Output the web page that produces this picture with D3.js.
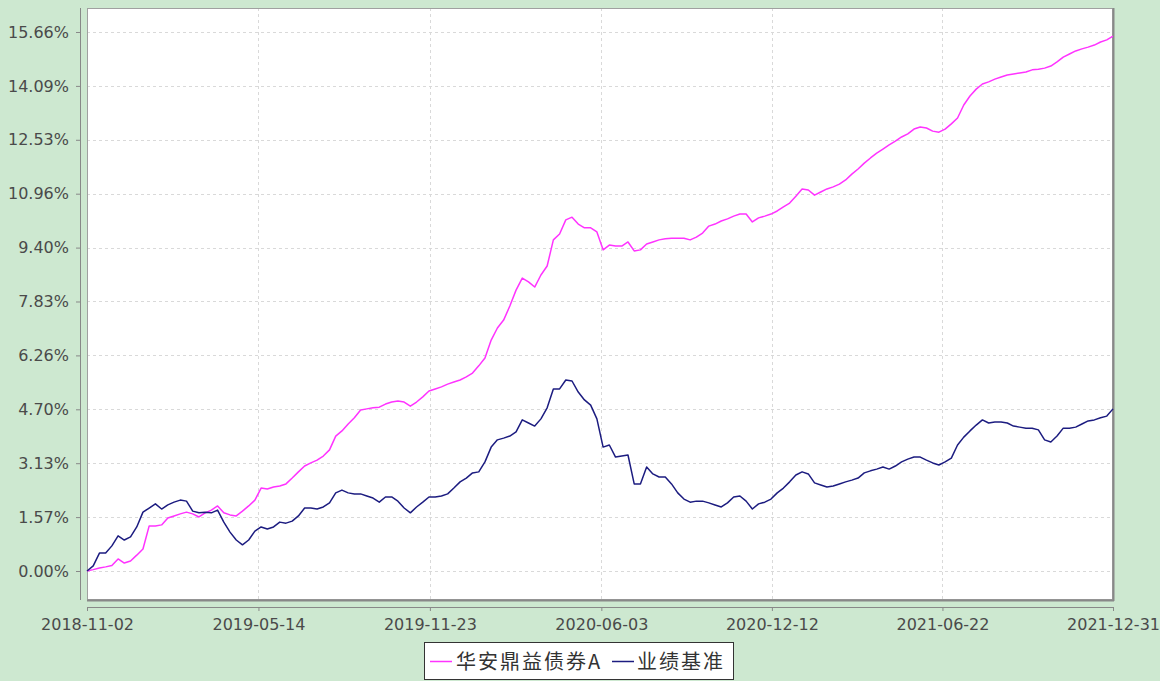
<!DOCTYPE html>
<html><head><meta charset="utf-8">
<script src="https://cdn.jsdelivr.net/npm/d3@7/dist/d3.min.js"></script>
<style>
html,body{margin:0;padding:0;background:#cde8d0;}
svg{display:block;}
</style></head>
<body>
<svg id="chart" width="1160" height="681"></svg>
<script>
const dates = [
"2018-11-02","2018-11-09","2018-11-16","2018-11-23","2018-11-30","2018-12-07","2018-12-14","2018-12-21","2018-12-28",
"2019-01-04","2019-01-11","2019-01-18","2019-01-25","2019-02-01","2019-02-08","2019-02-15","2019-02-22",
"2019-03-01","2019-03-08","2019-03-15","2019-03-22","2019-03-29","2019-04-05","2019-04-12","2019-04-19","2019-04-26",
"2019-05-03","2019-05-10","2019-05-17","2019-05-24","2019-05-31","2019-06-07","2019-06-14","2019-06-21","2019-06-28",
"2019-07-05","2019-07-12","2019-07-19","2019-07-26","2019-08-02","2019-08-09","2019-08-16","2019-08-23","2019-08-30",
"2019-09-06","2019-09-13","2019-09-20","2019-09-27","2019-10-04","2019-10-11","2019-10-18","2019-10-25",
"2019-11-01","2019-11-08","2019-11-15","2019-11-22","2019-11-29","2019-12-06","2019-12-13","2019-12-20","2019-12-27",
"2020-01-03","2020-01-10","2020-01-17","2020-01-24","2020-01-31","2020-02-07","2020-02-14","2020-02-21","2020-02-28",
"2020-03-06","2020-03-13","2020-03-20","2020-03-27","2020-04-03","2020-04-10","2020-04-17","2020-04-24",
"2020-05-01","2020-05-08","2020-05-15","2020-05-22","2020-05-29","2020-06-05","2020-06-12","2020-06-19","2020-06-26",
"2020-07-03","2020-07-10","2020-07-17","2020-07-24","2020-07-31","2020-08-07","2020-08-14","2020-08-21","2020-08-28",
"2020-09-04","2020-09-11","2020-09-18","2020-09-25","2020-10-02","2020-10-09","2020-10-16","2020-10-23","2020-10-30",
"2020-11-06","2020-11-13","2020-11-20","2020-11-27","2020-12-04","2020-12-11","2020-12-18","2020-12-25",
"2021-01-01","2021-01-08","2021-01-15","2021-01-22","2021-01-29","2021-02-05","2021-02-12","2021-02-19","2021-02-26",
"2021-03-05","2021-03-12","2021-03-19","2021-03-26","2021-04-02","2021-04-09","2021-04-16","2021-04-23","2021-04-30",
"2021-05-07","2021-05-14","2021-05-21","2021-05-28","2021-06-04","2021-06-11","2021-06-18","2021-06-25",
"2021-07-02","2021-07-09","2021-07-16","2021-07-23","2021-07-30","2021-08-06","2021-08-13","2021-08-20","2021-08-27",
"2021-09-03","2021-09-10","2021-09-17","2021-09-24","2021-10-01","2021-10-08","2021-10-15","2021-10-22","2021-10-29",
"2021-11-05","2021-11-12","2021-11-19","2021-11-26","2021-12-03","2021-12-10","2021-12-17","2021-12-24","2021-12-31"
];

// 华安鼎益债券A cumulative return (%)
const fundValues = [
0.00,0.04,0.09,0.12,0.16,0.35,0.23,0.29,0.46,
0.64,1.31,1.31,1.34,1.54,1.60,1.66,1.71,
1.66,1.57,1.69,1.77,1.89,1.69,1.63,1.60,1.74,
1.89,2.06,2.41,2.38,2.44,2.47,2.53,2.70,2.88,
3.05,3.14,3.22,3.34,3.52,3.92,4.07,4.27,4.45,
4.68,4.71,4.74,4.76,4.85,4.91,4.94,4.91,
4.79,4.91,5.06,5.23,5.29,5.35,5.43,5.49,5.55,
5.64,5.75,5.96,6.19,6.71,7.06,7.29,7.70,8.16,
8.51,8.40,8.25,8.60,8.86,9.62,9.79,10.20,
10.28,10.08,9.97,9.97,9.85,9.33,9.47,9.44,9.44,
9.56,9.30,9.33,9.50,9.56,9.62,9.65,9.67,9.67,
9.67,9.62,9.70,9.82,10.02,10.08,10.17,10.23,10.31,
10.37,10.37,10.14,10.26,10.31,10.37,10.46,10.58,
10.69,10.89,11.10,11.07,10.92,11.01,11.10,11.16,11.24,
11.36,11.53,11.68,11.85,12.00,12.14,12.26,12.38,12.49,
12.61,12.70,12.84,12.90,12.87,12.78,12.75,12.84,
12.99,13.16,13.54,13.80,14.00,14.15,14.21,14.29,14.35,
14.41,14.44,14.47,14.50,14.56,14.58,14.61,14.67,14.79,
14.93,15.02,15.11,15.17,15.22,15.28,15.37,15.43,15.54
];

// 业绩基准 cumulative return (%)
const benchValues = [
0.00,0.15,0.52,0.52,0.73,1.02,0.90,0.99,1.28,
1.71,1.83,1.95,1.80,1.92,2.00,2.06,2.03,
1.74,1.69,1.71,1.69,1.77,1.42,1.13,0.90,0.76,
0.90,1.16,1.28,1.22,1.28,1.42,1.39,1.45,1.60,
1.83,1.83,1.80,1.86,1.98,2.27,2.35,2.27,2.24,
2.24,2.18,2.12,2.00,2.15,2.15,2.03,1.83,
1.69,1.86,2.00,2.15,2.15,2.18,2.24,2.41,2.59,
2.70,2.85,2.88,3.17,3.60,3.81,3.86,3.92,4.04,
4.39,4.30,4.21,4.42,4.74,5.29,5.29,5.55,
5.52,5.20,4.97,4.82,4.42,3.60,3.66,3.31,3.34,
3.37,2.53,2.53,3.02,2.82,2.73,2.73,2.53,2.27,
2.09,2.00,2.03,2.03,1.98,1.92,1.86,1.98,2.15,
2.18,2.03,1.80,1.95,2.00,2.09,2.27,2.41,
2.59,2.79,2.88,2.82,2.56,2.50,2.44,2.47,2.53,
2.59,2.64,2.70,2.85,2.91,2.96,3.02,2.96,3.05,
3.17,3.25,3.31,3.31,3.22,3.14,3.08,3.17,
3.28,3.66,3.89,4.07,4.24,4.39,4.30,4.33,4.33,
4.30,4.21,4.18,4.15,4.15,4.10,3.81,3.75,3.92,
4.15,4.15,4.18,4.27,4.36,4.39,4.45,4.50,4.71
];

const xTickLabels = ["2018-11-02","2019-05-14","2019-11-23","2020-06-03","2020-12-12","2021-06-22","2021-12-31"];
const yTickValues = [0,1.566,3.132,4.698,6.264,7.83,9.396,10.962,12.528,14.094,15.66];
const yTickLabels = ["0.00%","1.57%","3.13%","4.70%","6.26%","7.83%","9.40%","10.96%","12.53%","14.09%","15.66%"];
const seriesNames = ["华安鼎益债券A","业绩基准"];
const seriesColors = ["#ff33ff","#1c1c80"];

const parse = d3.timeParse("%Y-%m-%d");
const svg = d3.select("#chart");
const L = 87, R = 1113, T = 8, B = 600;

const x = d3.scaleTime().domain([parse(dates[0]), parse(dates[dates.length-1])]).range([L, R]);
const y = d3.scaleLinear().domain([-0.8425, 16.357]).range([B, T]);

// plot background
svg.append("rect").attr("x", L).attr("y", T).attr("width", R-L).attr("height", B-T).attr("fill", "#fff");

// grid
const grid = svg.append("g").attr("stroke", "#d9d9d9").attr("stroke-dasharray", "3,3").attr("stroke-width", 1);
yTickValues.forEach(v => {
  grid.append("line").attr("x1", L).attr("x2", R).attr("y1", Math.round(y(v))+0.5).attr("y2", Math.round(y(v))+0.5);
});
xTickLabels.forEach((d,i) => {
  if (i === 0 || i === xTickLabels.length-1) return;
  const px = Math.round(x(parse(d)))+0.5;
  grid.append("line").attr("x1", px).attr("x2", px).attr("y1", T).attr("y2", B);
});

// border
svg.append("rect").attr("x", L+0.5).attr("y", T+0.5).attr("width", R-L-1).attr("height", B-T-1)
  .attr("fill", "none").attr("stroke", "#a0a0a0");
svg.append("line").attr("x1", R+0.5).attr("x2", R+0.5).attr("y1", T).attr("y2", B+1).attr("stroke", "#888").attr("stroke-width", 2);
svg.append("line").attr("x1", L).attr("x2", R+1).attr("y1", B+0.5).attr("y2", B+0.5).attr("stroke", "#888").attr("stroke-width", 2);

// lines
const pts = (vals) => vals.map((v,i) => [parse(dates[i]), v]);
const line = d3.line().x(d => x(d[0])).y(d => y(d[1]));
[fundValues, benchValues].forEach((vals, i) => {
  svg.append("path").datum(pts(vals)).attr("fill", "none")
    .attr("stroke", seriesColors[i]).attr("stroke-width", 1.5).attr("stroke-linejoin", "round")
    .attr("d", line);
});

// y axis
const yAxis = d3.axisLeft(y).tickValues(yTickValues).tickSize(4).tickPadding(7)
  .tickFormat((d,i) => yTickLabels[i]);
const gy = svg.append("g").attr("transform", "translate(80,0)").call(yAxis);
gy.select(".domain").attr("d", `M0.5,${T}V${B}`).attr("stroke", "#888");
gy.selectAll(".tick line").attr("stroke", "#888");
gy.selectAll("text").attr("font-family", "DejaVu Sans, sans-serif").attr("font-size", 16).attr("fill", "#4a4a4a");

// x axis
const xAxis = d3.axisBottom(x).tickValues(xTickLabels.map(parse)).tickSize(4).tickPadding(8)
  .tickFormat((d,i) => xTickLabels[i]);
const gx = svg.append("g").attr("transform", "translate(0,607)").call(xAxis);
gx.select(".domain").attr("d", `M${L},0.5H${R}`).attr("stroke", "#888");
gx.selectAll(".tick line").attr("stroke", "#888");
gx.selectAll("text").attr("font-family", "DejaVu Sans, sans-serif").attr("font-size", 16).attr("fill", "#4a4a4a");

// legend
const lg = svg.append("g");
lg.append("rect").attr("x", 424.5).attr("y", 642.5).attr("width", 309).attr("height", 37)
  .attr("fill", "#fff").attr("stroke", "#333");
const legendItems = [{lx:430, tx:456}, {lx:612, tx:637}];
seriesNames.forEach((n,i) => {
  lg.append("line").attr("x1", legendItems[i].lx).attr("x2", legendItems[i].lx+22)
    .attr("y1", 661.5).attr("y2", 661.5).attr("stroke", seriesColors[i]).attr("stroke-width", 1.5);
  lg.append("text").attr("x", legendItems[i].tx).attr("y", 669).text(n)
    .attr("font-family", "Noto Sans CJK SC, sans-serif").attr("font-size", 20)
    .attr("letter-spacing", 2).attr("fill", "#333");
});
</script>
</body></html>
